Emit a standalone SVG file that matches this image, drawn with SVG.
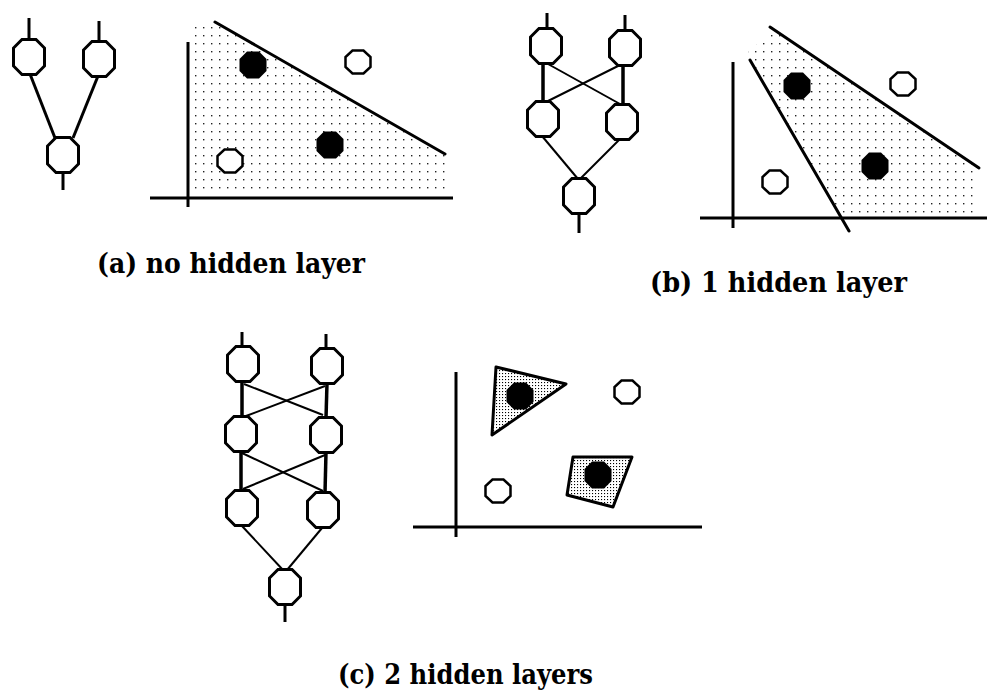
<svg xmlns="http://www.w3.org/2000/svg" xmlns:xlink="http://www.w3.org/1999/xlink" width="987" height="695" viewBox="0 0 987 695">
<style>
.node{fill:#fff;stroke:#000;stroke-width:3}
.stem{stroke:#000;stroke-width:3;fill:none}
.thick{stroke:#000;stroke-width:3.5;fill:none}
.thin{stroke:#000;stroke-width:2;fill:none}
.axis{stroke:#000;stroke-width:3;fill:none}
.bound{stroke:#000;stroke-width:3;fill:none;stroke-linecap:round}
.black{fill:#000;stroke:none}
.open{fill:#fff;stroke:#000;stroke-width:2.5}
.sparse{fill:url(#sparse);stroke:none}
.dense{fill:url(#dense);stroke:#000;stroke-width:3;stroke-linejoin:round}
.label{font-family:"DejaVu Serif","Liberation Serif",serif;font-weight:bold;font-size:27px;fill:#000}
</style>
<defs>
<pattern id="sparse" x="0" y="0" width="8" height="8" patternUnits="userSpaceOnUse">
<rect x="3" y="3" width="1.4" height="1.4" fill="#222"/>
</pattern>
<pattern id="dense" x="0" y="0" width="3" height="3" patternUnits="userSpaceOnUse">
<rect width="3" height="3" fill="#fff"/>
<rect x="1" y="1" width="1.1" height="1.1" fill="#000"/>
</pattern>
<polygon id="oct" points="-7,-17.5 7,-17.5 15.5,-9 15.5,9 7,17.5 -7,17.5 -15.5,9 -15.5,-9"/>
<polygon id="boct" points="-6,-13.5 6,-13.5 13.5,-6 13.5,6 6,13.5 -6,13.5 -13.5,6 -13.5,-6"/>
<polygon id="ooct" points="-5.5,-11.5 5.5,-11.5 12.5,-5 12.5,5 5.5,11.5 -5.5,11.5 -12.5,5 -12.5,-5"/>
</defs>
<rect width="987" height="695" fill="#fff"/>

<!-- Panel (a) network -->
<g id="connectors-a">
<line class="stem" x1="29" y1="18" x2="29" y2="40"/>
<line class="stem" x1="99" y1="21" x2="99" y2="42"/>
<line class="stem" x1="63" y1="172" x2="63" y2="190"/>
<line class="stem" x1="30" y1="74" x2="55" y2="138"/>
<line class="stem" x1="98" y1="76" x2="73" y2="138"/>
</g>
<g id="a-in1"><use href="#oct" class="node" x="29" y="57"/></g>
<g id="a-in2"><use href="#oct" class="node" x="99" y="59"/></g>
<g id="a-out"><use href="#oct" class="node" x="63" y="155"/></g>

<!-- Panel (a) plot -->
<g id="plot-a">
<polygon class="sparse" points="196,24 215,22 445,154 445,193 190,193 190,36"/>
<line class="axis" x1="188" y1="42" x2="188" y2="207"/>
<line class="axis" x1="150" y1="198" x2="453" y2="198"/>
<line class="bound" x1="215" y1="22" x2="445" y2="154"/>
<use href="#boct" class="black" x="253" y="65"/>
<use href="#boct" class="black" x="330" y="145"/>
<use href="#ooct" class="open" x="358" y="62"/>
<use href="#ooct" class="open" x="230" y="161"/>
</g>
<g id="label-a"><text class="label" x="97" y="273" textLength="268" lengthAdjust="spacingAndGlyphs">(a) no hidden layer</text></g>

<!-- Panel (b) network -->
<g id="connectors-b">
<line class="stem" x1="547" y1="13" x2="547" y2="29"/>
<line class="stem" x1="625" y1="15" x2="625" y2="31"/>
<line class="stem" x1="579" y1="213" x2="579" y2="233"/>
<line class="thick" x1="543" y1="63" x2="543" y2="102"/>
<line class="thick" x1="623" y1="65" x2="623" y2="105"/>
<line class="thin" x1="548" y1="64" x2="620" y2="104"/>
<line class="thin" x1="620" y1="65" x2="546" y2="102"/>
<line class="thin" x1="542" y1="136" x2="578" y2="179"/>
<line class="thin" x1="620" y1="139" x2="580" y2="179"/>
</g>
<g id="b-in1"><use href="#oct" class="node" x="546" y="46"/></g>
<g id="b-in2"><use href="#oct" class="node" x="625" y="48"/></g>
<g id="b-h1"><use href="#oct" class="node" x="543" y="119"/></g>
<g id="b-h2"><use href="#oct" class="node" x="622" y="122"/></g>
<g id="b-out"><use href="#oct" class="node" x="579" y="196"/></g>

<!-- Panel (b) plot -->
<g id="plot-b">
<polygon class="sparse" points="748,52 766,36 770,28 976,167 976,213 839,213 750,60"/>
<line class="axis" x1="733" y1="62" x2="733" y2="228"/>
<line class="axis" x1="700" y1="218" x2="987" y2="218"/>
<line class="bound" x1="770" y1="27" x2="979" y2="168"/>
<line class="bound" x1="750" y1="60" x2="849" y2="231"/>
<use href="#boct" class="black" x="797" y="86"/>
<use href="#boct" class="black" x="875" y="166"/>
<use href="#ooct" class="open" x="903" y="84"/>
<use href="#ooct" class="open" x="775" y="182"/>
</g>
<g id="label-b"><text class="label" x="650" y="292" textLength="257" lengthAdjust="spacingAndGlyphs">(b) 1 hidden layer</text></g>

<!-- Panel (c) network -->
<g id="connectors-c">
<line class="stem" x1="242" y1="332" x2="242" y2="347"/>
<line class="stem" x1="326" y1="334" x2="326" y2="349"/>
<line class="stem" x1="285" y1="604" x2="285" y2="622"/>
<line class="thick" x1="242" y1="381" x2="242" y2="417"/>
<line class="thick" x1="327" y1="383" x2="326" y2="418"/>
<line class="thick" x1="241" y1="451" x2="241" y2="491"/>
<line class="thick" x1="326" y1="452" x2="325" y2="493"/>
<line class="thin" x1="244" y1="384" x2="323" y2="415"/>
<line class="thin" x1="325" y1="386" x2="246" y2="416"/>
<line class="thin" x1="242" y1="453" x2="323" y2="491"/>
<line class="thin" x1="325" y1="455" x2="243" y2="489"/>
<line class="thin" x1="242" y1="526" x2="283" y2="570"/>
<line class="thin" x1="322" y1="528" x2="287" y2="570"/>
</g>
<g id="c-in1"><use href="#oct" class="node" x="243" y="364"/></g>
<g id="c-in2"><use href="#oct" class="node" x="327" y="366"/></g>
<g id="c-h1"><use href="#oct" class="node" x="241" y="434"/></g>
<g id="c-h2"><use href="#oct" class="node" x="326" y="435"/></g>
<g id="c-h3"><use href="#oct" class="node" x="242" y="508"/></g>
<g id="c-h4"><use href="#oct" class="node" x="323" y="510"/></g>
<g id="c-out"><use href="#oct" class="node" x="285" y="587"/></g>

<!-- Panel (c) plot -->
<g id="plot-c">
<line class="axis" x1="456" y1="372" x2="456" y2="537"/>
<line class="axis" x1="413" y1="527" x2="702" y2="527"/>
<polygon class="dense" points="496,367 566,384 492,435"/>
<polygon class="dense" points="573,457 632,457 613,507 567,495"/>
<use href="#boct" class="black" x="520" y="396"/>
<use href="#boct" class="black" x="598" y="475"/>
<use href="#ooct" class="open" x="627" y="392"/>
<use href="#ooct" class="open" x="498" y="491"/>
</g>
<g id="label-c"><text class="label" x="338" y="684" textLength="255" lengthAdjust="spacingAndGlyphs">(c) 2 hidden layers</text></g>
</svg>
